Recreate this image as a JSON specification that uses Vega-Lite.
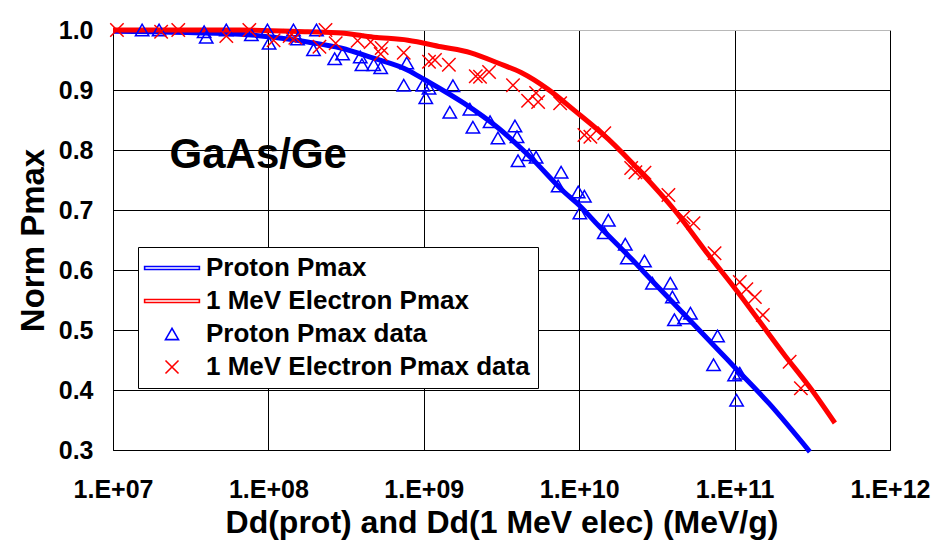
{
  "$schema": "https://vega.github.io/schema/vega-lite/v6.json",
  "width": 777,
  "height": 420,
  "autosize": {"type": "none"},
  "padding": {"left": 113, "top": 30, "right": 45, "bottom": 103},
  "background": "white",
  "config": {
    "font": "Liberation Sans",
    "view": {"stroke": null},
    "axis": {
      "labelFont": "Liberation Sans", "labelFontWeight": "bold", "labelFontSize": 25, "labelColor": "black",
      "titleFont": "Liberation Sans", "titleFontWeight": "bold", "titleFontSize": 32, "titleColor": "black",
      "domainColor": "black", "domainWidth": 1, "ticks": false,
      "grid": true, "gridColor": "black", "gridWidth": 1, "gridOpacity": 1
    }
  },
  "datasets": {
    "curves": [
      {"series": "Proton Pmax", "dose": 1e7, "pmax": 0.998},
      {"series": "Proton Pmax", "dose": 6.6e7, "pmax": 0.993},
      {"series": "Proton Pmax", "dose": 1.08e8, "pmax": 0.988},
      {"series": "Proton Pmax", "dose": 1.79e8, "pmax": 0.980},
      {"series": "Proton Pmax", "dose": 2.92e8, "pmax": 0.970},
      {"series": "Proton Pmax", "dose": 4.75e8, "pmax": 0.953},
      {"series": "Proton Pmax", "dose": 7.9e8, "pmax": 0.933},
      {"series": "Proton Pmax", "dose": 1e9, "pmax": 0.918},
      {"series": "Proton Pmax", "dose": 1.81e9, "pmax": 0.878},
      {"series": "Proton Pmax", "dose": 3.0e9, "pmax": 0.837},
      {"series": "Proton Pmax", "dose": 4.9e9, "pmax": 0.787},
      {"series": "Proton Pmax", "dose": 8.0e9, "pmax": 0.730},
      {"series": "Proton Pmax", "dose": 1e10, "pmax": 0.708},
      {"series": "Proton Pmax", "dose": 1.33e10, "pmax": 0.674},
      {"series": "Proton Pmax", "dose": 2.16e10, "pmax": 0.619},
      {"series": "Proton Pmax", "dose": 2.92e10, "pmax": 0.583},
      {"series": "Proton Pmax", "dose": 4.75e10, "pmax": 0.526},
      {"series": "Proton Pmax", "dose": 7.9e10, "pmax": 0.466},
      {"series": "Proton Pmax", "dose": 1e11, "pmax": 0.438},
      {"series": "Proton Pmax", "dose": 1.66e11, "pmax": 0.378},
      {"series": "Proton Pmax", "dose": 3.05e11, "pmax": 0.297},
      {"series": "1 MeV Electron Pmax", "dose": 1e7, "pmax": 1.0},
      {"series": "1 MeV Electron Pmax", "dose": 6.6e7, "pmax": 1.0},
      {"series": "1 MeV Electron Pmax", "dose": 1.79e8, "pmax": 0.997},
      {"series": "1 MeV Electron Pmax", "dose": 2.92e8, "pmax": 0.995},
      {"series": "1 MeV Electron Pmax", "dose": 4.75e8, "pmax": 0.988},
      {"series": "1 MeV Electron Pmax", "dose": 7.9e8, "pmax": 0.983},
      {"series": "1 MeV Electron Pmax", "dose": 1.29e9, "pmax": 0.972},
      {"series": "1 MeV Electron Pmax", "dose": 2.01e9, "pmax": 0.962},
      {"series": "1 MeV Electron Pmax", "dose": 3.0e9, "pmax": 0.945},
      {"series": "1 MeV Electron Pmax", "dose": 4.23e9, "pmax": 0.929},
      {"series": "1 MeV Electron Pmax", "dose": 6.31e9, "pmax": 0.901},
      {"series": "1 MeV Electron Pmax", "dose": 9.3e9, "pmax": 0.866},
      {"series": "1 MeV Electron Pmax", "dose": 1.54e10, "pmax": 0.818},
      {"series": "1 MeV Electron Pmax", "dose": 2.51e10, "pmax": 0.762},
      {"series": "1 MeV Electron Pmax", "dose": 4.1e10, "pmax": 0.700},
      {"series": "1 MeV Electron Pmax", "dose": 6.8e10, "pmax": 0.625},
      {"series": "1 MeV Electron Pmax", "dose": 1e11, "pmax": 0.570},
      {"series": "1 MeV Electron Pmax", "dose": 2.1e11, "pmax": 0.458},
      {"series": "1 MeV Electron Pmax", "dose": 3.14e11, "pmax": 0.400},
      {"series": "1 MeV Electron Pmax", "dose": 4.42e11, "pmax": 0.345}
    ],
    "points": [
      {"series": "Proton Pmax data", "dose": 1.54e7, "pmax": 1.0},
      {"series": "Proton Pmax data", "dose": 1.98e7, "pmax": 1.0},
      {"series": "Proton Pmax data", "dose": 3.86e7, "pmax": 0.997},
      {"series": "Proton Pmax data", "dose": 3.98e7, "pmax": 0.988},
      {"series": "Proton Pmax data", "dose": 5.36e7, "pmax": 1.0},
      {"series": "Proton Pmax data", "dose": 7.77e7, "pmax": 0.992},
      {"series": "Proton Pmax data", "dose": 9.86e7, "pmax": 1.0},
      {"series": "Proton Pmax data", "dose": 1.01e8, "pmax": 0.978},
      {"series": "Proton Pmax data", "dose": 1.45e8, "pmax": 1.0},
      {"series": "Proton Pmax data", "dose": 1.54e8, "pmax": 0.985},
      {"series": "Proton Pmax data", "dose": 2.04e8, "pmax": 1.0},
      {"series": "Proton Pmax data", "dose": 1.95e8, "pmax": 0.967},
      {"series": "Proton Pmax data", "dose": 2.67e8, "pmax": 0.952},
      {"series": "Proton Pmax data", "dose": 3.0e8, "pmax": 0.960},
      {"series": "Proton Pmax data", "dose": 3.9e8, "pmax": 0.955},
      {"series": "Proton Pmax data", "dose": 4.0e8, "pmax": 0.942},
      {"series": "Proton Pmax data", "dose": 4.76e8, "pmax": 0.942},
      {"series": "Proton Pmax data", "dose": 5.28e8, "pmax": 0.937},
      {"series": "Proton Pmax data", "dose": 7.77e8, "pmax": 0.945},
      {"series": "Proton Pmax data", "dose": 7.43e8, "pmax": 0.908},
      {"series": "Proton Pmax data", "dose": 9.86e8, "pmax": 0.908},
      {"series": "Proton Pmax data", "dose": 1.08e9, "pmax": 0.903},
      {"series": "Proton Pmax data", "dose": 1.03e9, "pmax": 0.887},
      {"series": "Proton Pmax data", "dose": 1.54e9, "pmax": 0.907},
      {"series": "Proton Pmax data", "dose": 1.47e9, "pmax": 0.863},
      {"series": "Proton Pmax data", "dose": 1.98e9, "pmax": 0.868},
      {"series": "Proton Pmax data", "dose": 2.07e9, "pmax": 0.838},
      {"series": "Proton Pmax data", "dose": 2.67e9, "pmax": 0.847},
      {"series": "Proton Pmax data", "dose": 3.0e9, "pmax": 0.820},
      {"series": "Proton Pmax data", "dose": 3.86e9, "pmax": 0.840},
      {"series": "Proton Pmax data", "dose": 3.98e9, "pmax": 0.822},
      {"series": "Proton Pmax data", "dose": 4.04e9, "pmax": 0.782},
      {"series": "Proton Pmax data", "dose": 4.76e9, "pmax": 0.792},
      {"series": "Proton Pmax data", "dose": 5.28e9, "pmax": 0.788},
      {"series": "Proton Pmax data", "dose": 7.65e9, "pmax": 0.763},
      {"series": "Proton Pmax data", "dose": 7.32e9, "pmax": 0.740},
      {"series": "Proton Pmax data", "dose": 9.86e9, "pmax": 0.730},
      {"series": "Proton Pmax data", "dose": 1.08e10, "pmax": 0.723},
      {"series": "Proton Pmax data", "dose": 1.01e10, "pmax": 0.695},
      {"series": "Proton Pmax data", "dose": 1.54e10, "pmax": 0.683},
      {"series": "Proton Pmax data", "dose": 1.45e10, "pmax": 0.662},
      {"series": "Proton Pmax data", "dose": 1.98e10, "pmax": 0.643},
      {"series": "Proton Pmax data", "dose": 2.04e10, "pmax": 0.620},
      {"series": "Proton Pmax data", "dose": 2.63e10, "pmax": 0.615},
      {"series": "Proton Pmax data", "dose": 2.96e10, "pmax": 0.578},
      {"series": "Proton Pmax data", "dose": 3.86e10, "pmax": 0.578},
      {"series": "Proton Pmax data", "dose": 3.98e10, "pmax": 0.555},
      {"series": "Proton Pmax data", "dose": 4.1e10, "pmax": 0.517},
      {"series": "Proton Pmax data", "dose": 4.76e10, "pmax": 0.520},
      {"series": "Proton Pmax data", "dose": 5.2e10, "pmax": 0.528},
      {"series": "Proton Pmax data", "dose": 7.77e10, "pmax": 0.490},
      {"series": "Proton Pmax data", "dose": 7.32e10, "pmax": 0.442},
      {"series": "Proton Pmax data", "dose": 1.0e11, "pmax": 0.425},
      {"series": "Proton Pmax data", "dose": 1.08e11, "pmax": 0.428},
      {"series": "Proton Pmax data", "dose": 1.03e11, "pmax": 0.383},
      {"series": "1 MeV Electron Pmax data", "dose": 1.06e7, "pmax": 1.0},
      {"series": "1 MeV Electron Pmax data", "dose": 2.04e7, "pmax": 0.997},
      {"series": "1 MeV Electron Pmax data", "dose": 2.63e7, "pmax": 1.0},
      {"series": "1 MeV Electron Pmax data", "dose": 5.36e7, "pmax": 0.990},
      {"series": "1 MeV Electron Pmax data", "dose": 7.54e7, "pmax": 1.0},
      {"series": "1 MeV Electron Pmax data", "dose": 1.08e8, "pmax": 0.983},
      {"series": "1 MeV Electron Pmax data", "dose": 1.37e8, "pmax": 0.990},
      {"series": "1 MeV Electron Pmax data", "dose": 1.49e8, "pmax": 0.987},
      {"series": "1 MeV Electron Pmax data", "dose": 2.33e8, "pmax": 1.0},
      {"series": "1 MeV Electron Pmax data", "dose": 2.13e8, "pmax": 0.972},
      {"series": "1 MeV Electron Pmax data", "dose": 2.71e8, "pmax": 0.978},
      {"series": "1 MeV Electron Pmax data", "dose": 3.75e8, "pmax": 0.982},
      {"series": "1 MeV Electron Pmax data", "dose": 4.55e8, "pmax": 0.980},
      {"series": "1 MeV Electron Pmax data", "dose": 5.36e8, "pmax": 0.970},
      {"series": "1 MeV Electron Pmax data", "dose": 5.28e8, "pmax": 0.960},
      {"series": "1 MeV Electron Pmax data", "dose": 7.43e8, "pmax": 0.962},
      {"series": "1 MeV Electron Pmax data", "dose": 1.08e9, "pmax": 0.947},
      {"series": "1 MeV Electron Pmax data", "dose": 1.18e9, "pmax": 0.950},
      {"series": "1 MeV Electron Pmax data", "dose": 1.45e9, "pmax": 0.942},
      {"series": "1 MeV Electron Pmax data", "dose": 2.16e9, "pmax": 0.923},
      {"series": "1 MeV Electron Pmax data", "dose": 2.3e9, "pmax": 0.922},
      {"series": "1 MeV Electron Pmax data", "dose": 2.63e9, "pmax": 0.930},
      {"series": "1 MeV Electron Pmax data", "dose": 3.75e9, "pmax": 0.908},
      {"series": "1 MeV Electron Pmax data", "dose": 4.69e9, "pmax": 0.882},
      {"series": "1 MeV Electron Pmax data", "dose": 5.28e9, "pmax": 0.895},
      {"series": "1 MeV Electron Pmax data", "dose": 5.44e9, "pmax": 0.880},
      {"series": "1 MeV Electron Pmax data", "dose": 7.54e9, "pmax": 0.878},
      {"series": "1 MeV Electron Pmax data", "dose": 1.08e10, "pmax": 0.825},
      {"series": "1 MeV Electron Pmax data", "dose": 1.18e10, "pmax": 0.822},
      {"series": "1 MeV Electron Pmax data", "dose": 1.45e10, "pmax": 0.828},
      {"series": "1 MeV Electron Pmax data", "dose": 2.16e10, "pmax": 0.770},
      {"series": "1 MeV Electron Pmax data", "dose": 2.3e10, "pmax": 0.763},
      {"series": "1 MeV Electron Pmax data", "dose": 2.63e10, "pmax": 0.762},
      {"series": "1 MeV Electron Pmax data", "dose": 3.75e10, "pmax": 0.725},
      {"series": "1 MeV Electron Pmax data", "dose": 4.69e10, "pmax": 0.688},
      {"series": "1 MeV Electron Pmax data", "dose": 5.44e10, "pmax": 0.678},
      {"series": "1 MeV Electron Pmax data", "dose": 7.43e10, "pmax": 0.628},
      {"series": "1 MeV Electron Pmax data", "dose": 1.08e11, "pmax": 0.580},
      {"series": "1 MeV Electron Pmax data", "dose": 1.19e11, "pmax": 0.568},
      {"series": "1 MeV Electron Pmax data", "dose": 1.35e11, "pmax": 0.555},
      {"series": "1 MeV Electron Pmax data", "dose": 1.52e11, "pmax": 0.525},
      {"series": "1 MeV Electron Pmax data", "dose": 2.26e11, "pmax": 0.447},
      {"series": "1 MeV Electron Pmax data", "dose": 2.67e11, "pmax": 0.403}
    ],
    "label": [
      {"name": "GaAs/Ge", "dose": 8.6e7, "pmax": 0.792}
    ]
  },
  "encoding": {
    "x": {
      "field": "dose", "type": "quantitative",
      "scale": {"type": "log", "domain": [1e7, 1e12], "nice": false},
      "axis": {
        "title": "Dd(prot) and Dd(1 MeV elec) (MeV/g)",
        "values": [1e7, 1e8, 1e9, 1e10, 1e11, 1e12],
        "labelExpr": "'1.E+' + (datum.value < 1e10 ? '0' : '') + format(log(datum.value) / LN10, '.0f')",
        "labelPadding": 27, "titlePadding": 5, "labelFlush": false, "labelOverlap": false
      }
    },
    "y": {
      "field": "pmax", "type": "quantitative",
      "scale": {"domain": [0.3, 1.0], "nice": false, "zero": false},
      "axis": {
        "title": "Norm Pmax", "titleFontSize": 33,
        "values": [0.3, 0.4, 0.5, 0.6, 0.7, 0.8, 0.9, 1.0],
        "format": ".1f", "labelPadding": 20, "titlePadding": 8, "labelFlush": false,
        "gridColor": {"condition": {"test": "datum.value >= 0.99", "value": "#b8b8b8"}, "value": "black"}
      }
    }
  },
  "layer": [
    {
      "data": {"name": "curves"},
      "transform": [{"filter": "datum.series === 'Proton Pmax'"}],
      "mark": {"type": "line", "color": "#0000ff", "strokeWidth": 5, "interpolate": "monotone"}
    },
    {
      "data": {"name": "curves"},
      "transform": [{"filter": "datum.series === '1 MeV Electron Pmax'"}],
      "mark": {"type": "line", "color": "#ff0000", "strokeWidth": 5, "interpolate": "monotone"}
    },
    {
      "data": {"name": "points"},
      "mark": {"type": "point", "filled": false, "strokeWidth": 1.5, "size": 180, "opacity": 1},
      "encoding": {
        "color": {
          "field": "series", "type": "nominal",
          "scale": {
            "domain": ["Proton Pmax", "1 MeV Electron Pmax", "Proton Pmax data", "1 MeV Electron Pmax data"],
            "range": ["#0000ff", "#ff0000", "#0000ff", "#ff0000"]
          },
          "legend": {
            "title": null,
            "orient": "none", "legendX": 25, "legendY": 217,
            "fillColor": "white", "strokeColor": "black", "cornerRadius": 0,
            "padding": 8, "rowPadding": 7,
            "labelFont": "Liberation Sans", "labelFontWeight": "bold", "labelFontSize": 26, "labelColor": "black",
            "labelLimit": 500, "symbolSize": 170, "symbolOffset": 13, "labelOffset": 21,
            "symbolStrokeWidth": 1.6
          }
        },
        "shape": {
          "field": "series", "type": "nominal",
          "scale": {
            "domain": ["Proton Pmax", "1 MeV Electron Pmax", "Proton Pmax data", "1 MeV Electron Pmax data"],
            "range": ["M-4.2,-0.22L4.2,-0.22L4.2,0.22L-4.2,0.22Z", "M-4.2,-0.22L4.2,-0.22L4.2,0.22L-4.2,0.22Z", "triangle-up", "M-1,-1L1,1M-1,1L1,-1"]
          },
          "legend": {
            "title": null,
            "orient": "none", "legendX": 25, "legendY": 217
          }
        }
      }
    },
    {
      "data": {"name": "label"},
      "mark": {"type": "text", "font": "Liberation Sans", "fontWeight": "bold", "fontSize": 42, "color": "black", "align": "center", "baseline": "middle"},
      "encoding": {
        "text": {"field": "name"}
      }
    }
  ]
}
